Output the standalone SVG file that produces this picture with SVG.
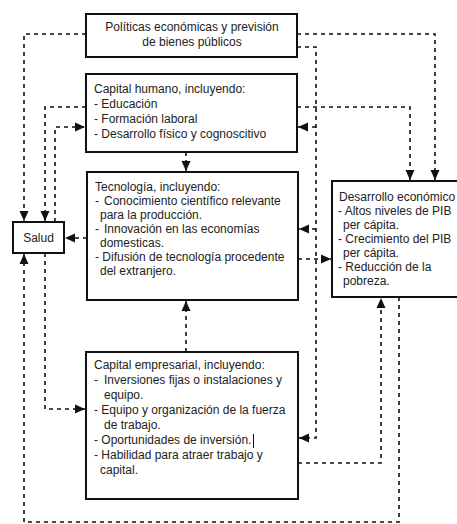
<svg xmlns="http://www.w3.org/2000/svg" width="457" height="524" viewBox="0 0 457 524">
<style>
.box{fill:#fff;stroke:#111;stroke-width:2}
.t{font-family:"Liberation Sans",Arial,sans-serif;font-size:12px;fill:#222}
.c{fill:none;stroke:#111;stroke-width:1.6;stroke-dasharray:4 4}
</style>
<defs>
<marker id="ah" markerUnits="userSpaceOnUse" markerWidth="10" markerHeight="10" refX="10" refY="5" orient="auto">
<path d="M0,0.5 L10,5 L0,9.5 z" fill="#111"/>
</marker>
</defs>
<rect width="457" height="524" fill="#fff"/>
<g id="connectors">
<path class="c" d="M86,34 H24 V221" marker-end="url(#ah)"/>
<path class="c" d="M297,34 H435 V180" marker-end="url(#ah)"/>
<path class="c" d="M297,47 H316 V438 H299" marker-end="url(#ah)"/>
<path class="c" d="M316,127 H298" marker-end="url(#ah)"/>
<path class="c" d="M316,229 H299" marker-end="url(#ah)"/>
<path class="c" d="M297,107 H410 V180" marker-end="url(#ah)"/>
<path class="c" d="M86,107 H45 V221" marker-end="url(#ah)"/>
<path class="c" d="M55,222 V127 H85" marker-end="url(#ah)"/>
<path class="c" d="M186,152 V171" marker-end="url(#ah)"/>
<path class="c" d="M87,238 H65" marker-end="url(#ah)"/>
<path class="c" d="M298,259 H331" marker-end="url(#ah)"/>
<path class="c" d="M186,352 V301" marker-end="url(#ah)"/>
<path class="c" d="M399,297 V522 H24 V254" marker-end="url(#ah)"/>
<path class="c" d="M45,253 V409 H85" marker-end="url(#ah)"/>
<path class="c" d="M298,463 H381 V298" marker-end="url(#ah)"/>
</g>
<g id="politicas">
<rect class="box" x="86" y="14" width="211" height="43"/>
<text class="t" x="192" y="31" text-anchor="middle">Políticas económicas y previsión</text>
<text class="t" x="192" y="46" text-anchor="middle">de bienes públicos</text>
</g>
<g id="capital-humano">
<rect class="box" x="86" y="74" width="211" height="78"/>
<text class="t" x="94" y="93">Capital humano, incluyendo:</text>
<text class="t" x="94" y="108">- Educación</text>
<text class="t" x="94" y="123">- Formación laboral</text>
<text class="t" x="94" y="138">- Desarrollo físico y cognoscitivo</text>
</g>
<g id="tecnologia">
<rect class="box" x="87" y="172" width="211" height="128"/>
<text class="t" x="95" y="190.5">Tecnología, incluyendo:</text>
<text class="t" x="95" y="204.5">-</text>
<text class="t" x="104" y="204.5">Conocimiento científico relevante</text>
<text class="t" x="100" y="218.5">para la producción.</text>
<text class="t" x="95" y="232.5">-</text>
<text class="t" x="104" y="232.5">Innovación en las economías</text>
<text class="t" x="100" y="246.5">domesticas.</text>
<text class="t" x="95" y="260.5">- Difusión de tecnología procedente</text>
<text class="t" x="100" y="274.5">del extranjero.</text>
</g>
<g id="salud">
<rect class="box" x="13" y="222" width="51" height="31"/>
<text class="t" x="38.5" y="242" text-anchor="middle">Salud</text>
</g>
<g id="desarrollo">
<rect class="box" x="332" y="181" width="130" height="116"/>
<text class="t" x="339" y="200.5">Desarrollo económico</text>
<text class="t" x="338" y="214.6">- Altos niveles de PIB</text>
<text class="t" x="343" y="228.7">per cápita.</text>
<text class="t" x="338" y="242.8">- Crecimiento del PIB</text>
<text class="t" x="343" y="256.9">per cápita.</text>
<text class="t" x="338" y="271">- Reducción de la</text>
<text class="t" x="343" y="285.1">pobreza.</text>
</g>
<g id="capital-empresarial">
<rect class="box" x="86" y="352" width="212" height="147"/>
<text class="t" x="94" y="369">Capital empresarial, incluyendo:</text>
<text class="t" x="94" y="384">-</text>
<text class="t" x="104" y="384">Inversiones fijas o instalaciones y</text>
<text class="t" x="104" y="399">equipo.</text>
<text class="t" x="94" y="414">- Equipo y organización de la fuerza</text>
<text class="t" x="104" y="429">de trabajo.</text>
<text class="t" x="94" y="444">- Oportunidades de inversión.</text>
<line x1="253.5" y1="434" x2="253.5" y2="448" stroke="#111" stroke-width="1"/>
<text class="t" x="94" y="459">- Habilidad para atraer trabajo y</text>
<text class="t" x="100" y="474">capital.</text>
</g>
</svg>
